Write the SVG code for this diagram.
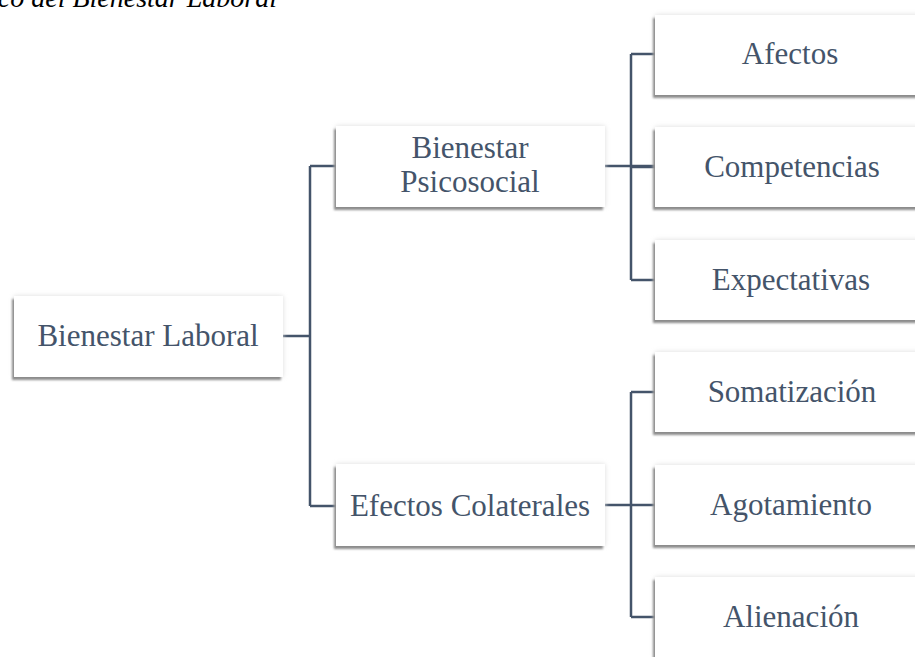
<svg xmlns="http://www.w3.org/2000/svg" width="915" height="657" viewBox="0 0 915 657">
<style>
.box{fill:#ffffff;filter:url(#sh)}
.lbl{font-family:"Liberation Serif","Times New Roman",serif;font-size:31px;fill:#44546A;text-anchor:middle}
.title{font-family:"Liberation Serif","Times New Roman",serif;font-style:italic;font-size:28px;fill:#000;text-anchor:end}
.con{fill:none;stroke:#44546A;stroke-width:2.5}
</style>
<defs>
<filter id="sh" x="-10%" y="-20%" width="120%" height="150%">
<feGaussianBlur in="SourceAlpha" stdDeviation="2.5" result="g"/>
<feFlood flood-color="#dcdcdc" result="c1"/>
<feComposite in="c1" in2="g" operator="in" result="glow"/>
<feOffset in="SourceAlpha" dx="-2" dy="3" result="o"/>
<feGaussianBlur in="o" stdDeviation="1" result="ob"/>
<feFlood flood-color="#8c8c8c" result="c2"/>
<feComposite in="c2" in2="ob" operator="in" result="dark"/>
<feMerge><feMergeNode in="glow"/><feMergeNode in="dark"/><feMergeNode in="SourceGraphic"/></feMerge>
</filter>
</defs>
<rect width="915" height="657" fill="#ffffff"/>
<text class="title" x="277" y="7">co del Bienestar Laboral</text>
<g id="connectors">
<path class="con" d="M283,336 H310 M310,166 V506 M310,166 H336 M310,506 H336"/>
<path class="con" d="M605,166 H655 M631,54 V280 M631,54 H655 M631,167 H655 M631,280 H655"/>
<path class="con" d="M605,505 H655 M631,392 V617 M631,392 H655 M631,505 H655 M631,617 H655"/>
</g>
<g id="n-bienestar-laboral"><rect class="box" x="14" y="296" width="269" height="81"/><text class="lbl" x="148" y="346">Bienestar Laboral</text></g>
<g id="n-bienestar-psicosocial"><rect class="box" x="336" y="126" width="269" height="81"/><text class="lbl" x="470" y="158">Bienestar</text><text class="lbl" x="470" y="192">Psicosocial</text></g>
<g id="n-efectos-colaterales"><rect class="box" x="336" y="464" width="269" height="82"/><text class="lbl" x="470" y="516">Efectos Colaterales</text></g>
<g id="n-afectos"><rect class="box" x="655" y="15" width="275" height="80"/><text class="lbl" x="790" y="64">Afectos</text></g>
<g id="n-competencias"><rect class="box" x="655" y="127" width="275" height="80"/><text class="lbl" x="792" y="177">Competencias</text></g>
<g id="n-expectativas"><rect class="box" x="655" y="240" width="275" height="80"/><text class="lbl" x="791" y="290">Expectativas</text></g>
<g id="n-somatizacion"><rect class="box" x="655" y="352" width="275" height="80"/><text class="lbl" x="792" y="402">Somatización</text></g>
<g id="n-agotamiento"><rect class="box" x="655" y="465" width="275" height="80"/><text class="lbl" x="791" y="515">Agotamiento</text></g>
<g id="n-alienacion"><rect class="box" x="655" y="577" width="275" height="80"/><text class="lbl" x="791" y="627">Alienación</text></g>
</svg>
